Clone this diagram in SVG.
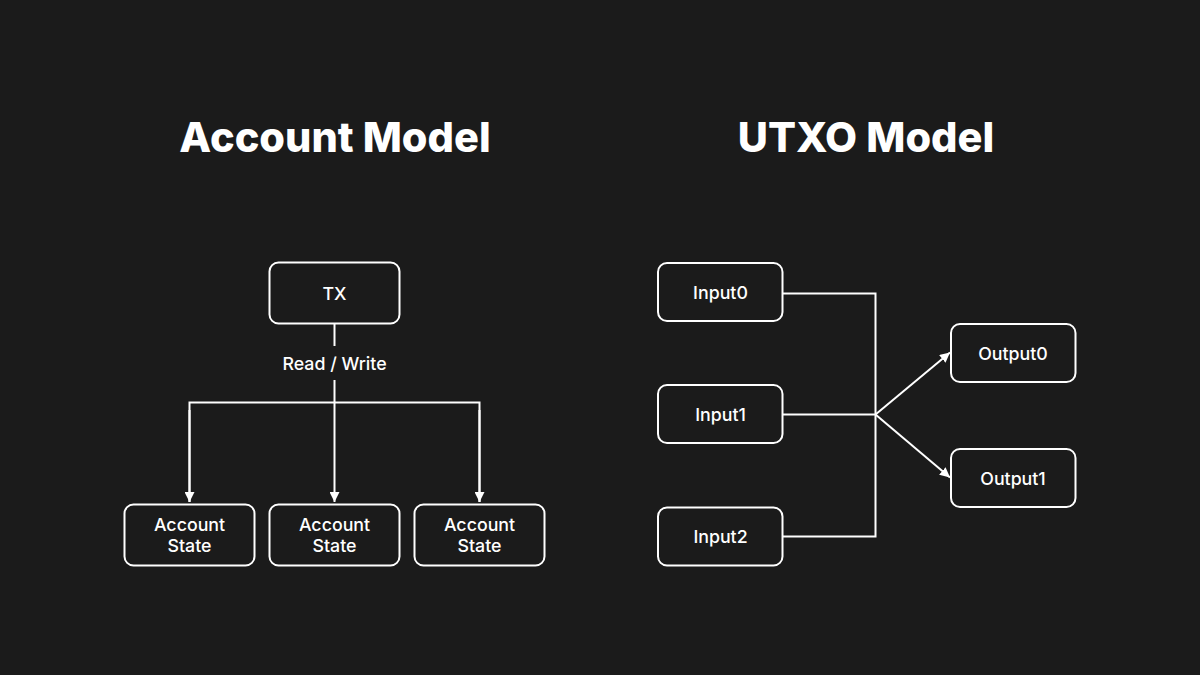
<svg xmlns="http://www.w3.org/2000/svg" width="1200" height="675" viewBox="0 0 1200 675">
<style>
.title{font-family:Inter,"Liberation Sans",sans-serif;font-weight:800;font-size:41.5px;fill:#fff;text-anchor:middle}
.box{fill:#1b1b1b;stroke:#fff;stroke-width:2}
.lbl{font-family:Inter,"Liberation Sans",sans-serif;font-weight:500;font-size:17.8px;fill:#fff;text-anchor:middle}
.ln{fill:none;stroke:#fff;stroke-width:2}
</style>
<defs>
<marker id="ah" viewBox="0 0 10 10" refX="10" refY="5" markerWidth="5" markerHeight="5" orient="auto" markerUnits="strokeWidth">
<path d="M0,0 L10,5 L0,10 z" fill="#fff"/>
</marker>
</defs>
<rect width="1200" height="675" fill="#1b1b1b"/>
<text class="title" x="335" y="152">Account Model</text>
<text class="title" x="866" y="152">UTXO Model</text>
<g id="connectors">
<path class="ln" d="M334.5,324 V346"/>
<path class="ln" d="M334.5,380 V502" marker-end="url(#ah)"/>
<path class="ln" d="M189.5,502 V402.5 H479.5 V502" />
<path class="ln" d="M189.5,410 V502" marker-end="url(#ah)"/>
<path class="ln" d="M479.5,410 V502" marker-end="url(#ah)"/>
<path class="ln" d="M783,293.5 H875.5 V536.5 H783"/>
<path class="ln" d="M783,414.5 H875.5"/>
<path class="ln" d="M875.5,414.5 L950,352.5" marker-end="url(#ah)"/>
<path class="ln" d="M875.5,414.5 L950,477.5" marker-end="url(#ah)"/>
<text class="lbl" x="334.5" y="370">Read / Write</text>
</g>
<g id="tx"><rect class="box" x="269.5" y="262.5" width="130" height="61" rx="9"/><text class="lbl" x="334.5" y="300">TX</text></g>
<g id="acc1"><rect class="box" x="124.5" y="504.5" width="130" height="61" rx="9"/><text class="lbl" x="189.5" y="531">Account</text><text class="lbl" x="189.5" y="552">State</text></g>
<g id="acc2"><rect class="box" x="269.5" y="504.5" width="130" height="61" rx="9"/><text class="lbl" x="334.5" y="531">Account</text><text class="lbl" x="334.5" y="552">State</text></g>
<g id="acc3"><rect class="box" x="414.5" y="504.5" width="130" height="61" rx="9"/><text class="lbl" x="479.5" y="531">Account</text><text class="lbl" x="479.5" y="552">State</text></g>
<g id="input0"><rect class="box" x="658" y="263" width="124.5" height="58" rx="9"/><text class="lbl" x="720.5" y="299">Input0</text></g>
<g id="input1"><rect class="box" x="658" y="385" width="124.5" height="58" rx="9"/><text class="lbl" x="720.5" y="421">Input1</text></g>
<g id="input2"><rect class="box" x="658" y="507.5" width="124.5" height="58" rx="9"/><text class="lbl" x="720.5" y="543">Input2</text></g>
<g id="output0"><rect class="box" x="951" y="324" width="124.5" height="58" rx="9"/><text class="lbl" x="1013" y="360">Output0</text></g>
<g id="output1"><rect class="box" x="951" y="449" width="124.5" height="58" rx="9"/><text class="lbl" x="1013" y="485">Output1</text></g>
</svg>
